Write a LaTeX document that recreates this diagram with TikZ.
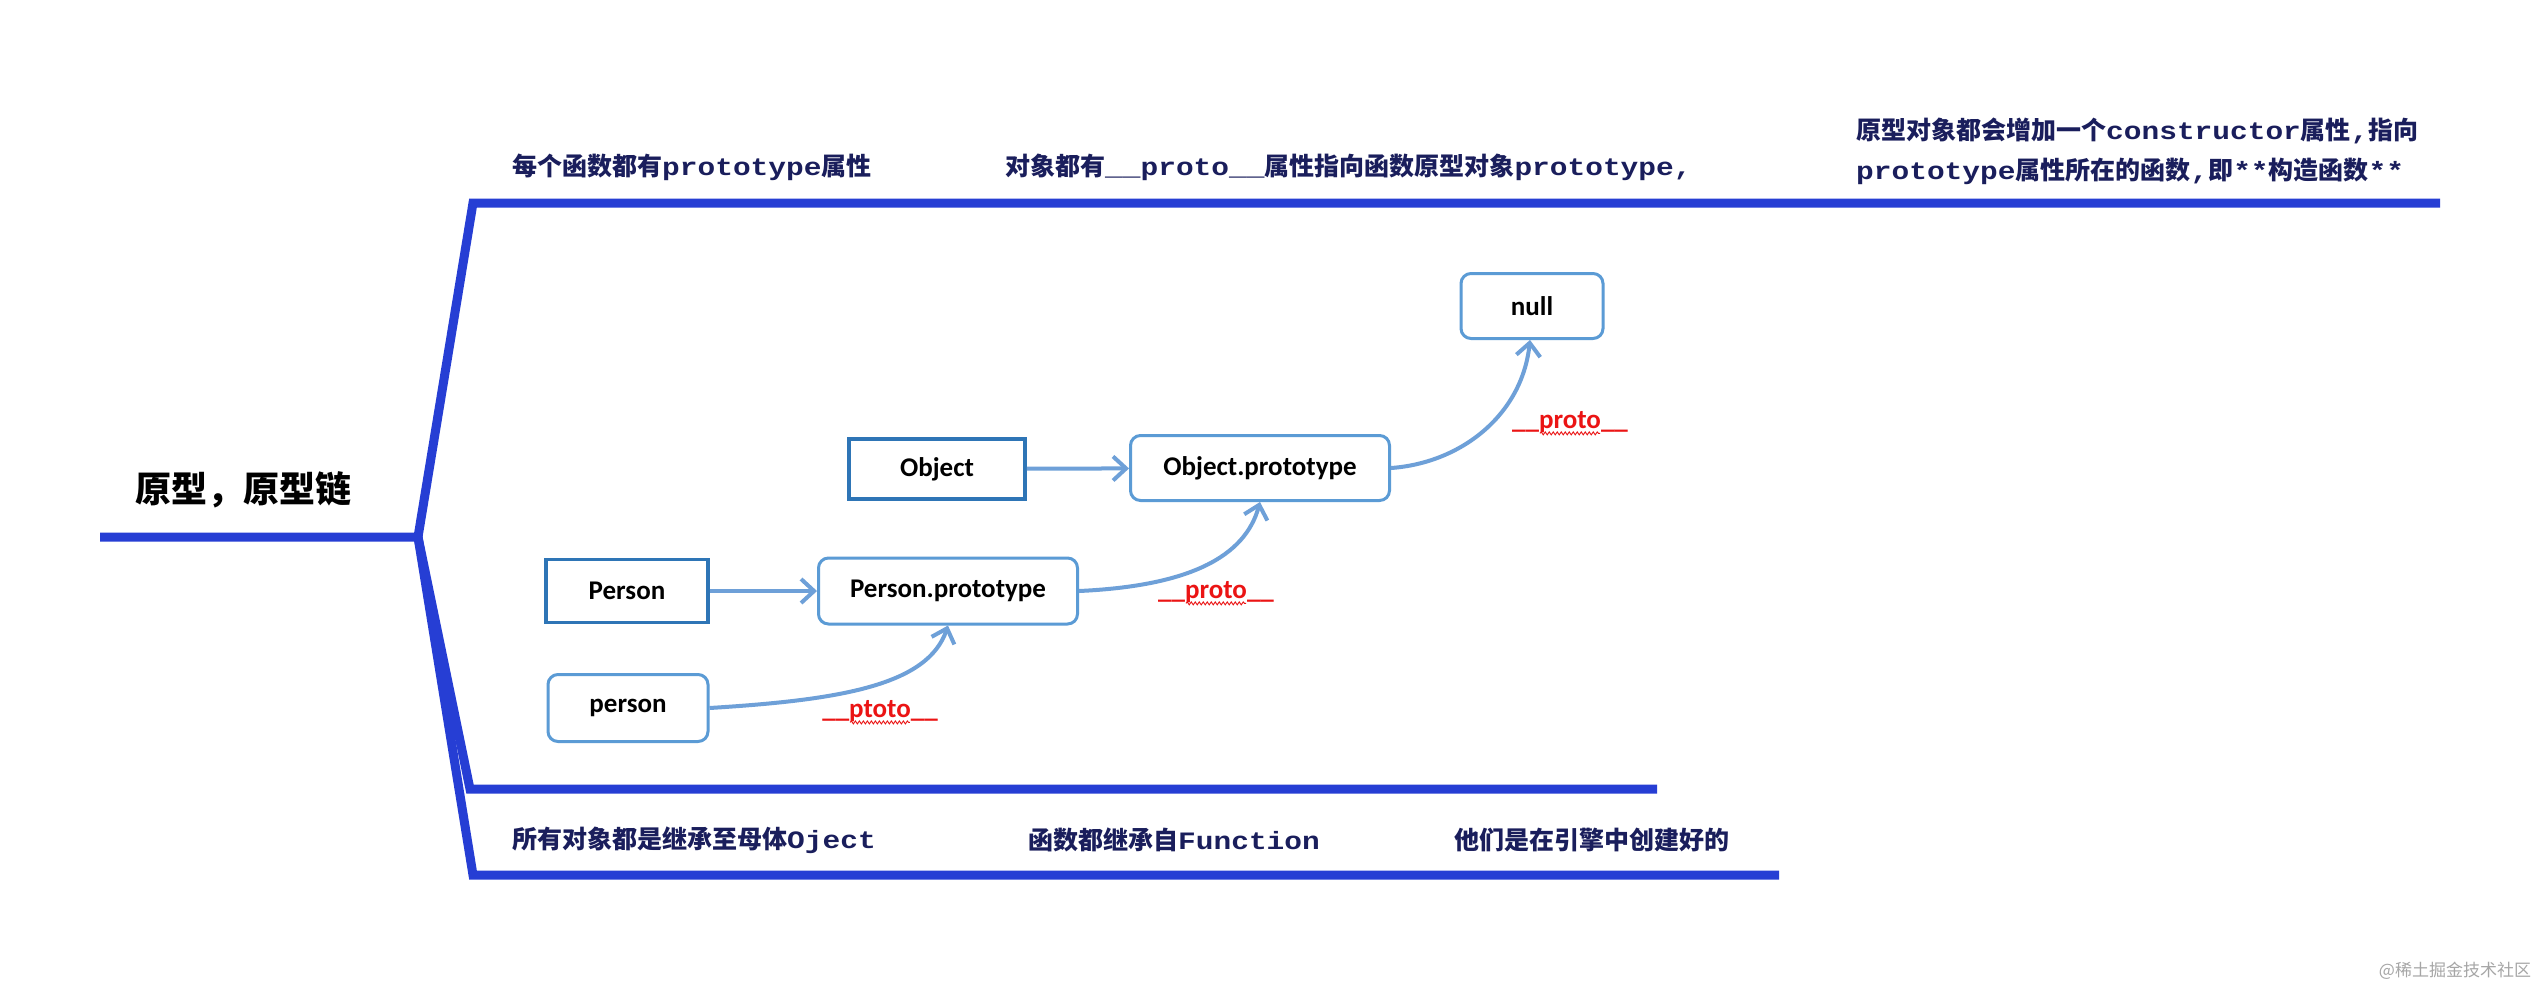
\documentclass[tikz,border=0pt]{standalone}
\usepackage{fontspec}
\usetikzlibrary{arrows.meta,calc,decorations.pathmorphing}
\setmainfont{Carlito}
\newfontfamily\cjk{Noto Sans CJK SC}
\newfontfamily\mono{Liberation Mono}[FakeStretch=1.18]
\newcommand\zhtxt[1]{{\cjk\bfseries #1}}
\newcommand\entxt[1]{{\mono\bfseries #1}}
\definecolor{branchblue}{RGB}{38,62,212}
\definecolor{navy}{RGB}{26,30,92}
\definecolor{boxdark}{RGB}{46,117,182}
\definecolor{boxlight}{RGB}{91,155,213}
\definecolor{arrowblue}{RGB}{110,160,216}
\definecolor{protored}{RGB}{235,20,20}
\tikzset{
  branch/.style={draw=branchblue, line width=9pt, line join=miter},
  lbl/.style={anchor=west, inner sep=0pt, text=navy, font=\fontsize{25}{40}\selectfont, align=left},
  sqbox/.style={draw=boxdark, line width=3.5pt, inner sep=0pt, font=\fontsize{27}{30}\selectfont\bfseries},
  rbox/.style={draw=boxlight, line width=3pt, rounded corners=10pt, inner sep=0pt, font=\fontsize{27}{30}\selectfont\bfseries},
  arr/.style={draw=arrowblue, line width=4pt, -{Straight Barb[length=13pt,width=24pt]}},
  redlbl/.style={inner sep=0pt, text=protored, font=\fontsize{27}{30}\selectfont\bfseries},
  wave/.style={draw=protored, line width=0.9pt, decorate, decoration={snake, amplitude=1.5pt, segment length=4pt}}
}
\begin{document}
\begin{tikzpicture}[x=1pt,y=-1pt]
\useasboundingbox[fill=white] (0,0) rectangle (2542,986);

% mind-map branches
\coordinate (start) at (100,537);
\coordinate (root) at (418,537);
\coordinate (tc) at (473,203);
\coordinate (te) at (2440,203);
\coordinate (mc) at (470,789);
\coordinate (me) at (1657,789);
\coordinate (bc) at (473,875);
\coordinate (be) at (1779,875);
\draw[branch] (start) -- (root) -- (tc) -- (te);
\draw[branch] (root) -- (mc) -- (me);
\draw[branch] (root) -- (bc) -- (be);

% title
\node[inner sep=0pt, font=\fontsize{36}{40}\selectfont] (title) at (243,490) {\zhtxt{原型，原型链}};

% top labels
\node[lbl] (l1) at (512,167) {\zhtxt{每个函数都有}\entxt{prototype}\zhtxt{属性}};
\node[lbl] (l2) at (1005,167) {\zhtxt{对象都有}\entxt{\_\_proto\_\_}\zhtxt{属性指向函数原型对象}\entxt{prototype,}};
\node[lbl] (l3) at (1856,151) {\zhtxt{原型对象都会增加一个}\entxt{constructor}\zhtxt{属性}\entxt{,}\zhtxt{指向}\\
\entxt{prototype}\zhtxt{属性所在的函数}\entxt{,}\zhtxt{即}\entxt{**}\zhtxt{构造函数}\entxt{**}};

% bottom labels
\node[lbl] (b1) at (512,840) {\zhtxt{所有对象都是继承至母体}\entxt{Oject}};
\node[lbl] (b2) at (1028,840) {\zhtxt{函数都继承自}\entxt{Function}};
\node[lbl] (b3) at (1454,840) {\zhtxt{他们是在引擎中创建好的}};

% diagram nodes
\node[rbox, minimum width=142pt, minimum height=65pt] (null) at (1532,306) {null};
\node[sqbox, minimum width=176pt, minimum height=60pt] (obj) at (937,469) {Object};
\node[rbox, minimum width=259pt, minimum height=65pt] (op) at (1260,468) {Object.prototype};
\node[sqbox, minimum width=162pt, minimum height=63pt] (Per) at (627,591) {Person};
\node[rbox, minimum width=259pt, minimum height=66pt] (pp) at (948,591) {Person.prototype};
\node[rbox, minimum width=160pt, minimum height=67pt] (per) at (628,708) {person};

% connectors
\draw[arr] (obj) -- (op);
\draw[arr] (Per) -- (pp);
\draw[arr] (per.east) .. controls ($(per.east)+(130,-8)$) and ($(pp.south)+(-20,60)$) .. (pp.south);
\draw[arr] (pp.east) .. controls ($(pp.east)+(110,-5)$) and ($(op.south)+(-15,55)$) .. (op.south);
\draw[arr] (op.east) .. controls ($(op.east)+(70,-5)$) and ($(null.south)+(-10,75)$) .. ([xshift=-2pt]null.south);

% red labels
\node[redlbl] (r1) at (1216,592) {\_\_proto\_\_};
\node[redlbl] (r2) at (880,711) {\_\_ptoto\_\_};
\node[redlbl] (r3) at (1570,422) {\_\_proto\_\_};
\draw[wave] ($(r1.base west)+(28,5)$) -- ($(r1.base east)+(-28,5)$);
\draw[wave] ($(r2.base west)+(28,5)$) -- ($(r2.base east)+(-28,5)$);
\draw[wave] ($(r3.base west)+(28,5)$) -- ($(r3.base east)+(-28,5)$);

% watermark
\node[inner sep=0pt, text=black!35, font=\fontsize{17}{20}\selectfont\cjk] (wm) at (2455,971) {@稀土掘金技术社区};
\end{tikzpicture}
\end{document}
